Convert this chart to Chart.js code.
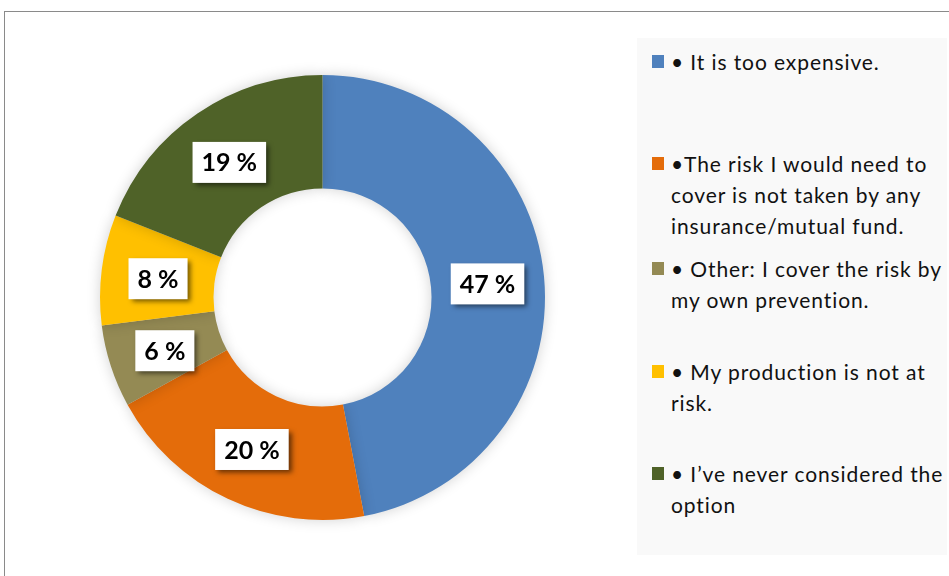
<!DOCTYPE html>
<html>
<head>
<meta charset="utf-8">
<script src="https://cdn.jsdelivr.net/npm/chart.js@4"></script>
<style>
  body { margin: 0; background: #fff; width: 949px; height: 576px; overflow: hidden; position: relative; font-family: Lato, "Open Sans", sans-serif; }
  #frame { position: absolute; left: 4px; top: 11px; width: 960px; height: 600px; border-top: 1px solid #8a8a8a; border-left: 1px solid #8a8a8a; }
  #chart-wrap { position: absolute; left: 80px; top: 55px; width: 485px; height: 485px; }
  #legend { position: absolute; left: 637px; top: 38px; width: 310px; height: 517px; background: #f9f9f9; }
  .item { position: absolute; left: 34px; width: 276px; font-size: 21px; line-height: 31px; color: #111; letter-spacing: 0.9px; }
  .item .sw { position: absolute; left: -19px; top: 9px; width: 12px; height: 13px; }
</style>
</head>
<body>
<div id="frame"></div>
<div id="chart-wrap"><canvas id="donut"></canvas></div>
<div id="legend"></div>
<script>
const categories = [
  '• It is too expensive.',
  '•The risk I would need to cover is not taken by any insurance/mutual fund.',
  '• Other: I cover the risk by my own prevention.',
  '• My production is not at risk.',
  '• I\u2019ve never considered the option'
];
const shares = [47, 20, 6, 8, 19];
const sliceColors = ['#4f81bd', '#e46c0a', '#948a54', '#ffc000', '#4f6228'];
// first-line tops of each legend entry
const legendTops = [8, 110, 215, 318, 420];

// html legend built from the same arrays
const legend = document.getElementById('legend');
categories.forEach((txt, i) => {
  const div = document.createElement('div');
  div.className = 'item';
  div.style.top = legendTops[i] + 'px';
  div.innerHTML = '<span class="sw" style="background:' + sliceColors[i] + '"></span>' + txt;
  legend.appendChild(div);
});

// draw boxed percentage labels on each slice
const boxLabels = {
  id: 'boxLabels',
  afterDatasetsDraw(chart) {
    const ctx = chart.ctx;
    const meta = chart.getDatasetMeta(0);
    ctx.save();
    ctx.font = 'bold 25px Lato, "Open Sans", sans-serif';
    ctx.textAlign = 'center';
    ctx.textBaseline = 'middle';
    meta.data.forEach((arc, i) => {
      const pos = arc.tooltipPosition();
      const y = pos.y + 2;
      const txt = shares[i] + ' %';
      const w = ctx.measureText(txt).width + 18;
      const h = 41;
      ctx.shadowColor = 'rgba(0,0,0,0.55)';
      ctx.shadowBlur = 5;
      ctx.shadowOffsetX = 3;
      ctx.shadowOffsetY = 3;
      ctx.fillStyle = '#fff';
      ctx.fillRect(pos.x - w / 2, y - h / 2, w, h);
      ctx.shadowColor = 'transparent';
      ctx.fillStyle = '#000';
      ctx.fillText(txt, pos.x, y + 1);
    });
    ctx.restore();
  }
};

// soft shadow behind the ring
const ringShadow = {
  id: 'ringShadow',
  beforeDatasetsDraw(chart) {
    const ctx = chart.ctx;
    ctx.save();
    ctx.shadowColor = 'rgba(0,0,0,0.18)';
    ctx.shadowBlur = 14;
    ctx.shadowOffsetX = 0;
    ctx.shadowOffsetY = 0;
  },
  afterDatasetsDraw(chart) {
    chart.ctx.restore();
  }
};

new Chart(document.getElementById('donut'), {
  type: 'doughnut',
  data: {
    labels: categories,
    datasets: [{
      data: shares,
      backgroundColor: sliceColors,
      borderWidth: 0
    }]
  },
  options: {
    responsive: true,
    maintainAspectRatio: false,
    animation: false,
    cutout: '49%',
    layout: { padding: 20 },
    plugins: {
      legend: { display: false },
      tooltip: { enabled: false }
    }
  },
  plugins: [ringShadow, boxLabels]
});
</script>
</body>
</html>
